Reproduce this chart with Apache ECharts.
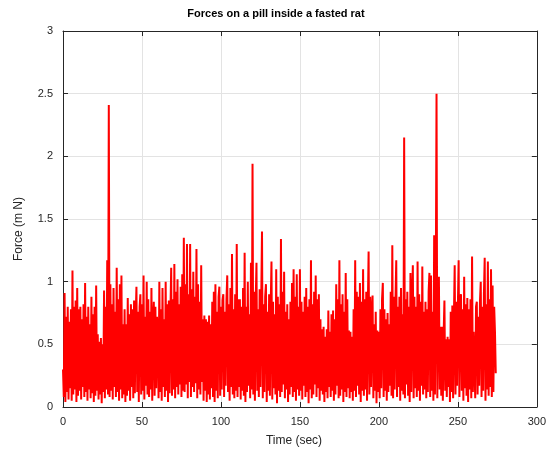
<!DOCTYPE html>
<html>
<head>
<meta charset="utf-8">
<script src="https://cdn.jsdelivr.net/npm/echarts@6/dist/echarts.min.js"></script>
<style>html,body{margin:0;padding:0;background:#fff;}#c{width:549px;height:450px;}</style>
</head>
<body>
<div id="c"></div>
<script>
var titleText = 'Forces on a pill inside a fasted rat';
var xName = 'Time (sec)';
var yName = 'Force (m N)';
var xTicks = [0, 50, 100, 150, 200, 250, 300];
var yTicks = [0, 0.5, 1, 1.5, 2, 2.5, 3];
var sampleStep = 0.5; // seconds between samples
var force = [
0.30,0.08,0.91,0.04,0.72,0.12,0.80,0.06,0.68,0.15,0.78,0.05,1.09,0.10,0.80,0.14,0.85,0.04,0.95,0.09,
0.78,0.13,0.80,0.06,0.70,0.16,0.82,0.08,0.99,0.12,0.72,0.05,0.80,0.14,0.66,0.07,0.88,0.11,0.74,0.04,
0.80,0.09,0.97,0.13,0.58,0.06,0.52,0.10,0.55,0.03,0.50,0.12,0.93,0.07,0.80,0.14,1.17,0.10,2.41,0.08,
0.98,0.13,0.82,0.06,0.95,0.16,0.76,0.08,1.11,0.12,0.86,0.05,0.98,0.14,1.05,0.07,0.66,0.10,0.78,0.04,
0.66,0.09,0.87,0.13,0.74,0.05,0.82,0.16,0.78,0.07,0.85,0.11,0.70,0.96,0.12,0.76,0.04,0.80,0.90,0.10,
0.82,0.13,1.05,0.06,0.72,0.17,1.00,0.10,0.86,0.08,0.76,0.14,0.95,0.05,0.68,0.84,0.09,0.80,0.15,0.72,
0.60,0.07,1.00,0.12,0.78,0.05,0.95,0.16,0.70,0.08,1.00,0.13,0.82,0.04,0.85,0.11,0.74,1.11,0.09,0.86,
0.14,1.14,0.07,0.92,0.16,1.02,0.10,0.82,0.18,0.96,0.08,1.06,0.13,1.35,0.12,0.98,0.18,1.30,0.07,0.90,
0.20,1.30,0.08,0.94,0.16,1.08,0.12,0.88,0.19,1.26,0.07,0.98,0.14,0.84,0.10,1.13,0.20,0.70,0.05,0.73,
0.13,0.70,0.04,0.68,0.10,0.73,0.06,0.66,0.15,0.84,0.08,0.92,0.04,0.98,0.13,0.76,0.07,0.88,0.96,0.09,
0.80,0.14,0.85,0.90,0.08,0.76,0.17,0.86,1.05,0.12,0.82,0.05,0.95,0.16,1.22,0.10,0.78,0.07,0.90,0.13,
1.30,0.08,0.86,0.16,0.86,0.06,0.80,0.13,0.95,0.09,1.23,0.04,0.80,0.12,1.00,0.17,0.74,0.07,1.15,0.14,
1.94,0.10,0.92,0.05,0.84,1.15,0.13,0.78,0.08,0.94,0.16,0.86,1.40,0.07,0.82,0.12,0.88,0.98,0.04,0.76,
0.13,0.90,0.09,0.80,1.16,0.06,0.84,0.15,0.74,0.10,1.10,0.03,0.88,0.13,0.82,0.08,1.34,0.12,0.92,0.18,
1.08,0.07,0.76,0.14,0.82,0.04,0.70,0.10,0.84,0.16,0.99,0.08,1.10,0.12,0.88,0.05,1.06,0.14,0.80,0.09,
1.10,0.13,0.84,0.06,0.76,0.17,0.88,0.08,0.95,0.12,0.80,0.03,0.86,0.14,1.17,0.07,0.82,0.10,0.92,0.18,
1.05,0.08,0.86,0.15,0.90,0.05,0.70,0.13,0.62,0.10,0.64,0.04,0.56,0.12,0.62,0.07,0.77,0.16,0.60,0.08,
0.74,0.13,0.77,0.05,0.70,0.10,0.98,0.17,0.86,0.07,1.17,0.09,0.82,0.14,0.90,0.04,0.76,0.12,1.07,0.08,
0.86,0.15,0.61,0.07,0.60,0.12,0.56,0.05,0.78,0.13,1.17,0.08,0.92,0.17,0.88,0.10,0.99,0.04,0.84,0.13,
1.10,0.09,0.86,0.14,0.92,0.05,0.80,1.24,0.10,0.88,0.16,0.76,0.89,0.07,0.66,0.13,0.76,0.03,0.61,0.12,
0.60,0.07,0.78,0.15,0.86,0.99,0.08,0.78,0.13,0.70,0.05,0.75,0.12,0.66,0.17,0.92,0.09,1.29,0.07,0.88,
0.14,0.84,1.17,0.08,0.80,0.16,0.88,0.05,0.95,0.13,0.74,0.10,2.15,0.07,0.86,0.18,0.92,0.09,0.80,0.04,
1.07,0.12,0.84,1.13,0.07,0.88,0.15,0.80,0.08,1.16,0.13,0.90,0.05,0.84,0.17,1.12,0.10,0.76,0.14,0.84,
0.07,0.78,0.12,0.92,1.07,0.08,1.05,0.13,0.76,0.05,1.37,0.10,0.86,2.50,0.07,0.80,1.04,0.14,0.64,0.09,
0.64,0.05,0.58,0.85,0.13,0.54,0.08,0.56,0.16,0.54,0.04,0.76,0.12,0.81,0.07,0.72,1.13,0.10,0.84,0.17,
0.80,1.17,0.08,0.88,0.90,0.13,0.78,0.05,1.04,0.15,0.82,0.09,0.87,0.04,0.78,0.14,0.86,0.07,1.20,0.12,
0.60,0.61,0.07,0.80,0.84,0.10,0.72,0.17,0.84,1.00,0.08,0.80,0.13,0.90,1.19,0.05,0.82,0.14,1.16,0.09,
0.86,0.16,1.10,0.08,0.97,0.12,0.80,0.60,0.27
];

var seriesData = force.map(function (v, i) { return [i * sampleStep, v]; });

var axisColor = '#262626';
var gridColor = '#e3e3e3';
var labelFont = { color: '#262626', fontSize: 11, fontFamily: 'Liberation Sans, Arial, sans-serif' };

var chart = echarts.init(document.getElementById('c'), null, { renderer: 'canvas' });
chart.setOption({
  animation: false,
  backgroundColor: '#ffffff',
  grid: { left: 63, right: 9, top: 31, bottom: 43, containLabel: false },
  graphic: [
    { type: 'text', x: 276, y: 14, style: { text: titleText, fill: '#000', font: 'bold 11px Liberation Sans, Arial, sans-serif', textAlign: 'center', textVerticalAlign: 'middle' } },
    { type: 'text', x: 294, y: 441, style: { text: xName, fill: '#262626', font: '12px Liberation Sans, Arial, sans-serif', textAlign: 'center', textVerticalAlign: 'middle' } },
    { type: 'text', x: 19, y: 229, rotation: Math.PI / 2, style: { text: yName, fill: '#262626', font: '12px Liberation Sans, Arial, sans-serif', textAlign: 'center', textVerticalAlign: 'middle' } }
  ],
  xAxis: [
    {
      type: 'value', position: 'bottom', min: xTicks[0], max: xTicks[xTicks.length - 1], interval: 50,
      axisLine: { show: true, onZero: false, lineStyle: { color: axisColor, width: 1 } },
      axisTick: { show: true, inside: true, length: 5, lineStyle: { color: axisColor } },
      axisLabel: Object.assign({ margin: 9 }, labelFont),
      splitLine: { show: true, lineStyle: { color: gridColor, width: 1 } }
    },
    {
      type: 'value', position: 'top', min: xTicks[0], max: xTicks[xTicks.length - 1], interval: 50,
      axisLine: { show: true, onZero: false, lineStyle: { color: axisColor, width: 1 } },
      axisTick: { show: true, inside: true, length: 5, lineStyle: { color: axisColor } },
      axisLabel: { show: false },
      splitLine: { show: false }
    }
  ],
  yAxis: [
    {
      type: 'value', position: 'left', min: yTicks[0], max: yTicks[yTicks.length - 1], interval: 0.5,
      axisLine: { show: true, onZero: false, lineStyle: { color: axisColor, width: 1 } },
      axisTick: { show: true, inside: true, length: 5, lineStyle: { color: axisColor } },
      axisLabel: Object.assign({ margin: 10 }, labelFont),
      splitLine: { show: true, lineStyle: { color: gridColor, width: 1 } }
    },
    {
      type: 'value', position: 'right', min: yTicks[0], max: yTicks[yTicks.length - 1], interval: 0.5,
      axisLine: { show: true, onZero: false, lineStyle: { color: axisColor, width: 1 } },
      axisTick: { show: true, inside: true, length: 5, lineStyle: { color: axisColor } },
      axisLabel: { show: false },
      splitLine: { show: false }
    }
  ],
  series: [
    {
      type: 'line', xAxisIndex: 0, yAxisIndex: 0, data: seriesData,
      showSymbol: false, symbol: 'none', sampling: null,
      lineStyle: { color: '#ff0000', width: 2 },
      itemStyle: { color: '#ff0000' }
    }
  ]
});
</script>
</body>
</html>
